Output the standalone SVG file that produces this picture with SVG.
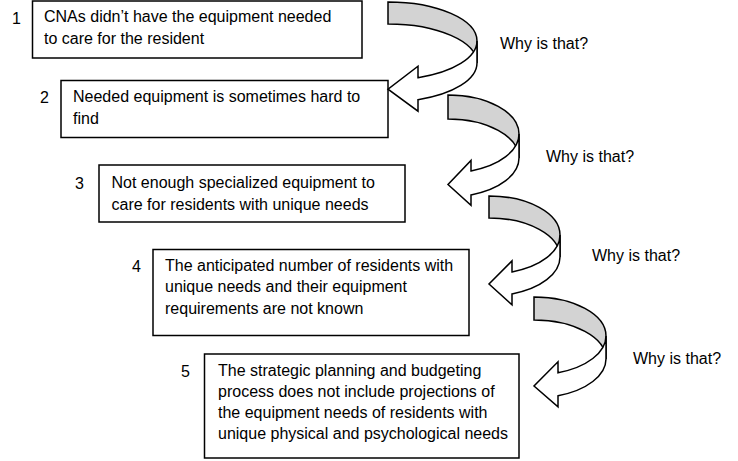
<svg xmlns="http://www.w3.org/2000/svg" width="738" height="461" viewBox="0 0 738 461">
<style>
.box{fill:#fff;stroke:#000;stroke-width:1.5}
.t{font-family:"Liberation Sans",Arial,sans-serif;font-size:16px;fill:#000}
.back{fill:#d3d3d3;stroke:#000;stroke-width:1.5;stroke-linejoin:miter}
.front{fill:#fff;stroke:#000;stroke-width:1.5;stroke-linejoin:miter}
</style>
<rect width="738" height="461" fill="#fff"/>
<g id="node1">
<rect class="box" x="32.5" y="1" width="329.5" height="57"/>
<text class="t" x="12" y="24">1</text>
<text class="t" x="44" y="21.5">CNAs didn’t have the equipment needed</text>
<text class="t" x="44" y="43.5">to care for the resident</text>
</g>
<g id="node2">
<rect class="box" x="61" y="80.5" width="327" height="57"/>
<text class="t" x="40" y="103">2</text>
<text class="t" x="73" y="102">Needed equipment is sometimes hard to</text>
<text class="t" x="73" y="123.5">find</text>
</g>
<g id="node3">
<rect class="box" x="99" y="165" width="306" height="57"/>
<text class="t" x="75" y="189">3</text>
<text class="t" x="111.5" y="187.5">Not enough specialized equipment to</text>
<text class="t" x="111.5" y="209.5">care for residents with unique needs</text>
</g>
<g id="node4">
<rect class="box" x="153" y="249.5" width="316" height="86"/>
<text class="t" x="132" y="272">4</text>
<text class="t" x="165" y="270.5">The anticipated number of residents with</text>
<text class="t" x="165" y="292">unique needs and their equipment</text>
<text class="t" x="165" y="313.5">requirements are not known</text>
</g>
<g id="node5">
<rect class="box" x="204.5" y="354" width="314.5" height="104"/>
<text class="t" x="181" y="377">5</text>
<text class="t" x="218" y="375.5">The strategic planning and budgeting</text>
<text class="t" x="218" y="397">process does not include projections of</text>
<text class="t" x="218" y="418">the equipment needs of residents with</text>
<text class="t" x="218" y="439">unique physical and psychological needs</text>
</g>
<g id="connectors">
<path class="back" d="M388,2 A89,39 0 0 1 477,41 L477,63 A89,39 0 0 0 388,24 Z"/>
<path class="front" d="M477,41 A89,39 0 0 1 418,77.72 L418,66.22 L388,89.2 L418,111.22 L418,99.72 A89,39 0 0 0 477,63 Z"/>
<path class="back" d="M448,95 A71,39 0 0 1 519,134 L519,158 A71,39 0 0 0 448,119 Z"/>
<path class="front" d="M519,134 A71,39 0 0 1 471,170.9 L471,160.4 L448,184.5 L471,205.4 L471,194.9 A71,39 0 0 0 519,158 Z"/>
<path class="back" d="M489,196 A71,39 0 0 1 560,235 L560,257 A71,39 0 0 0 489,218 Z"/>
<path class="front" d="M560,235 A71,39 0 0 1 512,271.9 L512,260.9 L489,284 L512,304.9 L512,293.9 A71,39 0 0 0 560,257 Z"/>
<path class="back" d="M534,297 A72,39 0 0 1 606,336 L606,359 A72,39 0 0 0 534,320 Z"/>
<path class="front" d="M606,336 A72,39 0 0 1 558,372.77 L558,361.77 L534,386 L558,406.77 L558,395.77 A72,39 0 0 0 606,359 Z"/>
<text class="t" x="500" y="49">Why is that?</text>
<text class="t" x="546" y="162">Why is that?</text>
<text class="t" x="592" y="261">Why is that?</text>
<text class="t" x="633" y="364">Why is that?</text>
</g>
</svg>
